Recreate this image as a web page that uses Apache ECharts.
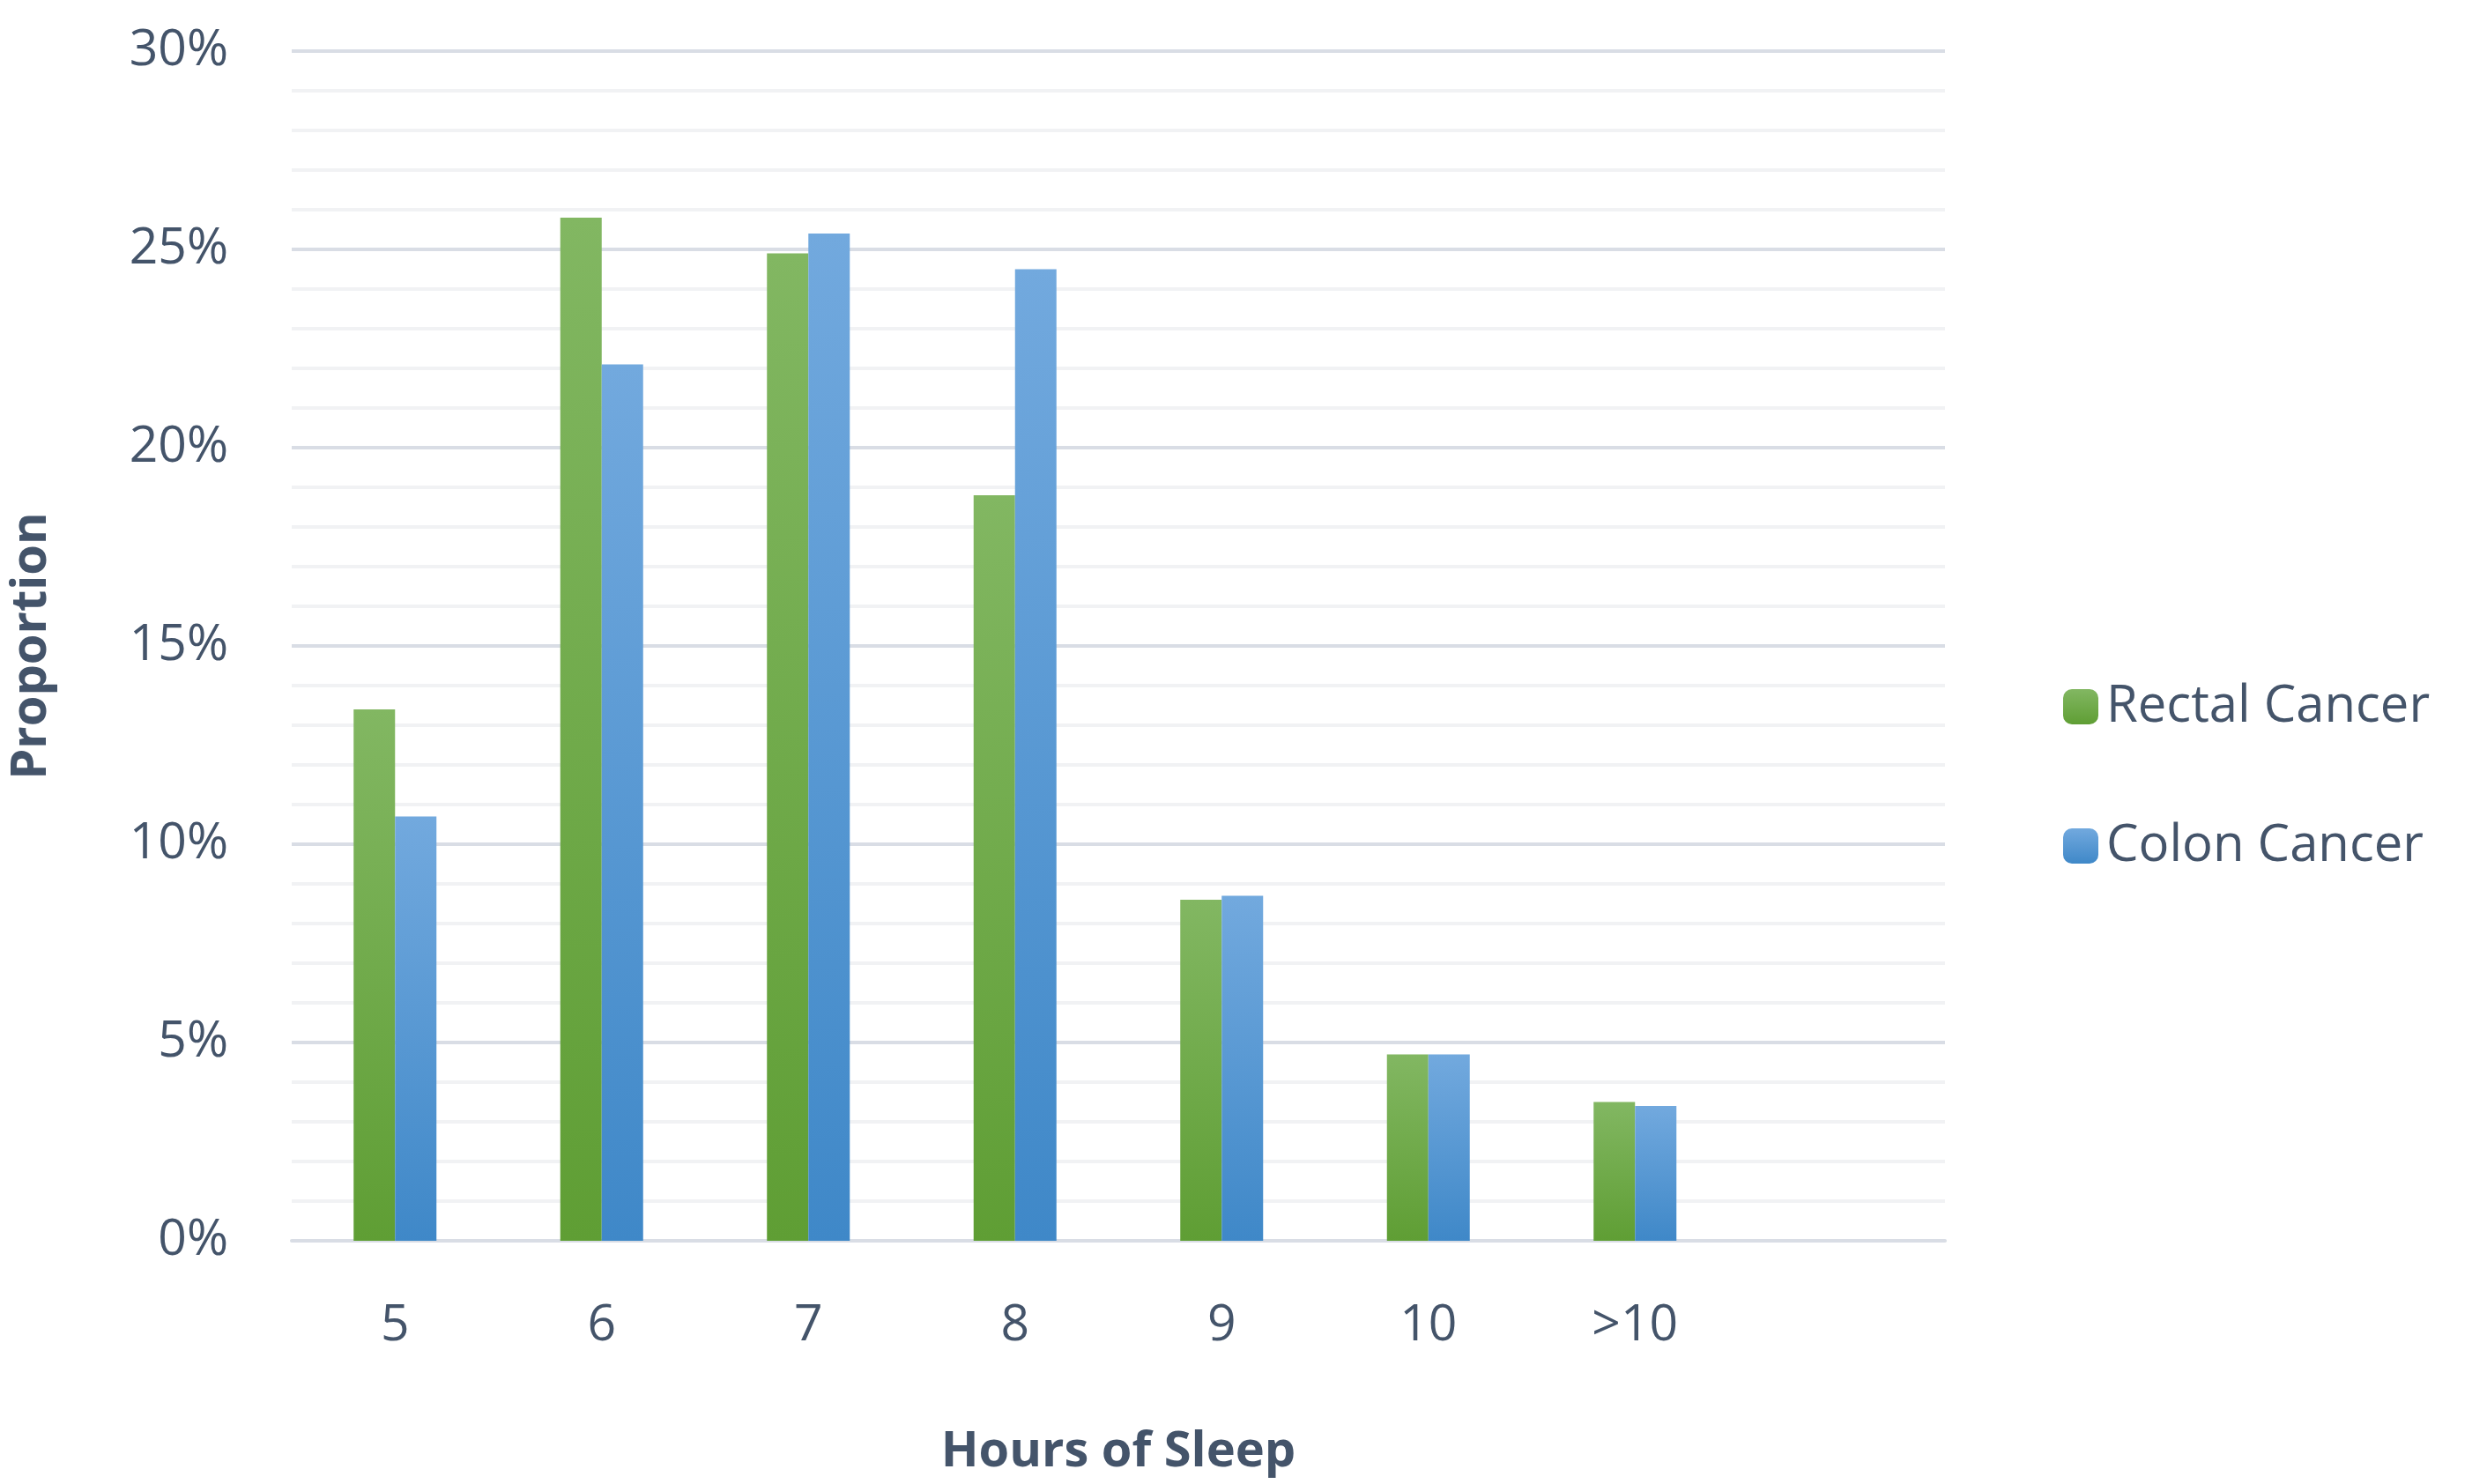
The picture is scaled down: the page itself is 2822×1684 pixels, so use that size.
<!DOCTYPE html>
<html><head><meta charset="utf-8">
<script src="https://cdn.jsdelivr.net/npm/echarts@6/dist/echarts.min.js"></script>
<style>html,body{margin:0;padding:0;background:#fff}#c{width:2822px;height:1684px}</style>
</head><body><div id="c"></div>
<script>
const categories = ['5','6','7','8','9','10','>10',''];
const rectal = [13.4, 25.8, 24.9, 18.8, 8.6, 4.7, 3.5];
const colon = [10.7, 22.1, 25.4, 24.5, 8.7, 4.7, 3.4];
const seriesNames = ['Rectal Cancer','Colon Cancer'];
const txt = '#44546a';
const font = 'Open Sans';
const grad = (a,b) => new echarts.graphic.LinearGradient(0,0,0,1,[{offset:0,color:a},{offset:1,color:b}]);
const chart = echarts.init(document.getElementById('c'));
chart.setOption({
  animation:false,
  grid:{left:317,right:615,top:58,bottom:276},
  legend:{orient:'vertical',left:2336,top:768,itemWidth:40,itemHeight:40,itemGap:100,
    textStyle:{color:txt,fontSize:58,fontFamily:font,padding:[0,0,0,4]},
    data:seriesNames},
  xAxis:{type:'category',data:categories,
    axisLine:{show:true,lineStyle:{color:'#d9dde5',width:4}},axisTick:{show:false},
    axisLabel:{color:txt,fontSize:57,fontFamily:font,margin:68},
    name:'Hours of Sleep',nameLocation:'middle',nameGap:212,
    nameTextStyle:{color:txt,fontSize:56,fontWeight:'bold',fontFamily:font}},
  yAxis:{type:'value',min:0,max:30,interval:5,
    axisLine:{show:false},axisTick:{show:false},
    axisLabel:{color:txt,fontSize:57,fontFamily:font,margin:72,formatter:'{value}%'},
    splitLine:{lineStyle:{color:'#d9dde5',width:4}},
    minorTick:{show:false,splitNumber:5},
    minorSplitLine:{show:true,lineStyle:{color:'#f1f2f4',width:4}},
    name:'Proportion',nameLocation:'middle',nameGap:267,
    nameTextStyle:{color:txt,fontSize:56,fontWeight:'bold',fontFamily:font}},
  series:[
    {name:seriesNames[0],type:'bar',data:rectal,barWidth:47,barGap:'0%',
     itemStyle:{color:grad('#82b762','#5f9e34')}},
    {name:seriesNames[1],type:'bar',data:colon,barWidth:47,barGap:'0%',
     itemStyle:{color:grad('#72a9de','#3f88c8')}}
  ]
});
</script></body></html>
